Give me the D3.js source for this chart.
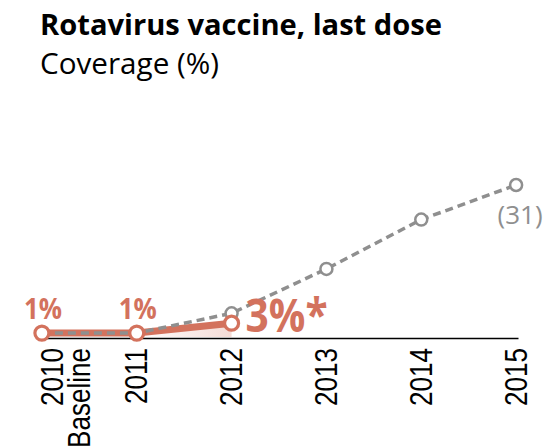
<!DOCTYPE html>
<html>
<head>
<meta charset="utf-8">
<script src="https://cdn.jsdelivr.net/npm/d3@7"></script>
<style>
  body { margin: 0; background: #fff; }
  svg { display: block; }
</style>
</head>
<body>
<svg id="chart" width="554" height="447"></svg>
<script>
// data
const years = ["2010", "2011", "2012", "2013", "2014", "2015"];
const tickLabels = [["2010", "Baseline"], ["2011"], ["2012"], ["2013"], ["2014"], ["2015"]];
const targetValues = [1, 1, 5, 14, 24, 31];   // grey dashed (target)
const actualYears = ["2010", "2011", "2012"];
const actualValues = [1, 1, 3];              // orange (actual)
const actualLabels = ["1%", "1%", "3%*"];
const endLabel = "(31)";

const orange = "#d3725d";
const grey = "#8f8f8f";
const condensed = "'Liberation Sans Narrow', 'Arial Narrow', 'Liberation Sans', Arial, sans-serif";
const humanist = "'Open Sans', 'Noto Sans', sans-serif";

let chart = d3.select("#chart");

// title
chart.append("text")
    .text("Rotavirus vaccine, last dose")
    .attr("x", 40)
    .attr("y", 35)
    .attr("font-family", humanist)
    .attr("font-weight", 700)
    .attr("font-size", 28)
    .attr("textLength", 402)
    .attr("lengthAdjust", "spacingAndGlyphs")
    .attr("fill", "#000");

chart.append("text")
    .text("Coverage (%)")
    .attr("x", 40)
    .attr("y", 74)
    .attr("font-family", humanist)
    .attr("font-size", 30)
    .attr("textLength", 179)
    .attr("lengthAdjust", "spacingAndGlyphs")
    .attr("fill", "#000");

// scales
let x = d3.scalePoint()
    .domain(years)
    .range([40, 518])
    .padding(0.02);

let y = d3.scaleLinear()
    .domain([0, 31])
    .range([338, 185]);

// x axis
let xAxis = d3.axisBottom(x)
    .tickSize(0)
    .tickSizeOuter(0)
    .tickFormat("");
let xAxisGroup = chart.append("g")
    .attr("transform", "translate(0," + y(0) + ")")
    .call(xAxis);
xAxisGroup.select(".domain")
    .attr("stroke", "#000")
    .attr("stroke-width", 1.6);

// rotated tick labels, one text per line, squeezed to a narrow width
let probe = chart.append("text")
    .text("2010")
    .attr("font-family", condensed)
    .attr("font-size", 32);
let squeeze = 58 / probe.node().getComputedTextLength();
probe.remove();

xAxisGroup.selectAll(".tick").each(function(d, i) {
    let lines = tickLabels[i];
    lines.forEach((ln, j) => {
        d3.select(this).append("text")
            .text(ln)
            .attr("transform", "rotate(-90) scale(" + squeeze + ",1)")
            .attr("text-anchor", "end")
            .attr("x", -10 / squeeze)
            .attr("y", (lines.length > 1 ? 21 : 10) + j * 27)
            .attr("font-family", condensed)
            .attr("font-size", 32)
            .attr("fill", "#000");
    });
});

// light area under the orange segment
let defs = chart.append("defs");
let grad = defs.append("linearGradient")
    .attr("id", "fadeArea")
    .attr("x1", "0").attr("x2", "1").attr("y1", "0").attr("y2", "0");
grad.append("stop").attr("offset", "0%").attr("stop-color", orange).attr("stop-opacity", 0);
grad.append("stop").attr("offset", "100%").attr("stop-color", orange).attr("stop-opacity", 0.25);

let actualData = actualYears.map((yr, i) => ({ year: yr, value: actualValues[i], label: actualLabels[i] }));
let targetData = years.map((yr, i) => ({ year: yr, value: targetValues[i] }));

chart.append("path")
    .datum(actualData.slice(1))
    .attr("fill", "url(#fadeArea)")
    .attr("d", d3.area()
        .x(d => x(d.year))
        .y0(y(0) - 1)
        .y1(d => y(d.value)));

// orange line
chart.append("path")
    .datum(actualData)
    .attr("fill", "none")
    .attr("stroke", orange)
    .attr("stroke-width", 7)
    .attr("d", d3.line()
        .x(d => x(d.year))
        .y(d => y(d.value)));

// grey dashed line
chart.append("path")
    .datum(targetData)
    .attr("fill", "none")
    .attr("stroke", grey)
    .attr("stroke-width", 3.5)
    .attr("stroke-dasharray", "8,5")
    .attr("d", d3.line()
        .x(d => x(d.year))
        .y(d => y(d.value)));

// grey circles (skip ones hidden under orange)
chart.selectAll(".tdot")
    .data(targetData.slice(2))
    .enter().append("circle")
    .attr("class", "tdot")
    .attr("cx", d => x(d.year))
    .attr("cy", d => y(d.value))
    .attr("r", 6)
    .attr("fill", "#fff")
    .attr("stroke", grey)
    .attr("stroke-width", 2.5);

// orange circles
chart.selectAll(".adot")
    .data(actualData)
    .enter().append("circle")
    .attr("class", "adot")
    .attr("cx", d => x(d.year))
    .attr("cy", d => y(d.value))
    .attr("r", 7)
    .attr("fill", "#fff")
    .attr("stroke", orange)
    .attr("stroke-width", 3.2);

// value labels
chart.selectAll(".alab")
    .data(actualData.slice(0, 2))
    .enter().append("text")
    .attr("class", "alab")
    .text(d => d.label)
    .attr("x", d => x(d.year) + 1)
    .attr("y", d => y(d.value) - 14)
    .attr("text-anchor", "middle")
    .attr("font-family", humanist)
    .attr("font-weight", 700)
    .attr("font-size", 29)
    .attr("textLength", 38)
    .attr("lengthAdjust", "spacingAndGlyphs")
    .attr("fill", orange);

let last = actualData[actualData.length - 1];
chart.append("text")
    .text(last.label)
    .attr("x", x(last.year) + 14)
    .attr("y", y(0) - 6)
    .attr("font-family", humanist)
    .attr("font-weight", 700)
    .attr("font-size", 47)
    .attr("textLength", 82)
    .attr("lengthAdjust", "spacingAndGlyphs")
    .attr("fill", orange);

let lastT = targetData[targetData.length - 1];
chart.append("text")
    .text(endLabel)
    .attr("x", x(lastT.year) + 4)
    .attr("y", y(lastT.value) + 39)
    .attr("text-anchor", "middle")
    .attr("font-family", humanist)
    .attr("font-size", 26)
    .attr("fill", grey);
</script>
</body>
</html>
